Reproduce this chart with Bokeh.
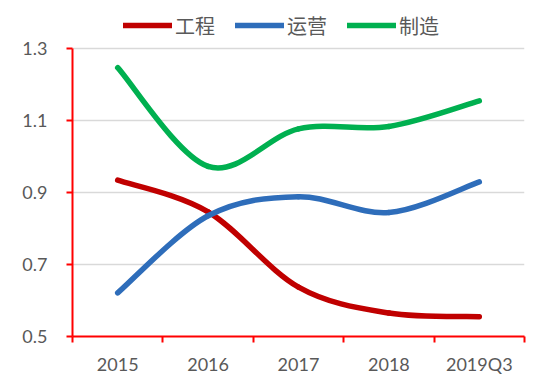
from bokeh.plotting import figure
from bokeh.models import (Range1d, FixedTicker, Legend, LegendItem)
from bokeh.embed import file_html
from bokeh.resources import INLINE

# ---- data ----
categories = ["2015", "2016", "2017", "2018", "2019Q3"]
engineering = [0.934, 0.846, 0.637, 0.565, 0.555]   # 工程
operation = [0.621, 0.835, 0.888, 0.844, 0.929]     # 运营
manufacturing = [1.246, 0.972, 1.076, 1.083, 1.154] # 制造
series_names = ["工程", "运营", "制造"]
y_ticks = [0.5, 0.7, 0.9, 1.1, 1.3]

colors = ["#C00000", "#2E6DBA", "#00B050"]
LABEL_FONT = "Lato"
CJK_FONT = "Noto Sans CJK SC"
TEXT_COLOR = "#595959"

W, H = 534, 377
LEFT, RIGHT, BOTTOM = 72, 10, 39
AXIS_TOP_PX = 48          # where the 1.3 line sits, from the top of the figure
frame_h = H - BOTTOM
y_lo, y_hi = y_ticks[0], y_ticks[-1]
# leave room above the value axis (inside the frame) for the legend
y_top = (y_hi - y_lo * AXIS_TOP_PX / frame_h) / (1 - AXIS_TOP_PX / frame_h)

xs = list(range(1, len(categories) + 1))

p = figure(width=W, height=H, output_backend="svg", toolbar_location=None,
           x_range=Range1d(0.5, len(categories) + 0.5), y_range=Range1d(y_lo, y_top),
           min_border_left=LEFT, min_border_right=RIGHT, min_border_top=0,
           min_border_bottom=BOTTOM)
p.outline_line_color = None
p.background_fill_color = "white"
p.border_fill_color = "white"


def smooth_segments(x, y):
    """Excel-like smoothed line: cubic Bezier segments through the data points."""
    n = len(x)
    segs = dict(x0=[], y0=[], x1=[], y1=[], cx0=[], cy0=[], cx1=[], cy1=[])
    for i in range(n - 1):
        pm = max(i - 1, 0)
        pp = min(i + 2, n - 1)
        segs["x0"].append(x[i]); segs["y0"].append(y[i])
        segs["x1"].append(x[i + 1]); segs["y1"].append(y[i + 1])
        segs["cx0"].append(x[i] + (x[i + 1] - x[pm]) / 6.0)
        segs["cy0"].append(y[i] + (y[i + 1] - y[pm]) / 6.0)
        segs["cx1"].append(x[i + 1] - (x[pp] - x[i]) / 6.0)
        segs["cy1"].append(y[i + 1] - (y[pp] - y[i]) / 6.0)
    return segs


items = []
for name, vals, col in zip(series_names, [engineering, operation, manufacturing], colors):
    s = smooth_segments(xs, vals)
    r = p.bezier(x0=s["x0"], y0=s["y0"], x1=s["x1"], y1=s["y1"],
                 cx0=s["cx0"], cy0=s["cy0"], cx1=s["cx1"], cy1=s["cy1"],
                 line_color=col, line_width=5.5, line_cap="round")
    items.append(LegendItem(label=name, renderers=[r]))

# grid
p.xgrid.visible = False
p.ygrid.ticker = FixedTicker(ticks=y_ticks)
p.ygrid.grid_line_color = "#D9D9D9"
p.ygrid.grid_line_width = 1.5

# x axis
xa = p.xaxis[0]
xa.ticker = FixedTicker(ticks=xs, minor_ticks=[v - 0.5 for v in xs] + [xs[-1] + 0.5])
xa.major_label_overrides = {x: c for x, c in zip(xs, categories)}
xa.major_tick_line_color = None
xa.minor_tick_line_color = "#FF0000"
xa.minor_tick_line_width = 2
xa.minor_tick_out = 6
xa.minor_tick_in = 0
xa.axis_line_color = "#FF0000"
xa.axis_line_width = 2
xa.major_label_text_font = LABEL_FONT
xa.major_label_text_font_size = "18px"
xa.major_label_text_color = TEXT_COLOR
xa.major_label_standoff = 10

# y axis
ya = p.yaxis[0]
ya.ticker = FixedTicker(ticks=y_ticks)
ya.bounds = (y_lo, y_hi)
ya.major_label_overrides = {t: f"{t:.1f}" for t in y_ticks}
ya.minor_tick_line_color = None
ya.major_tick_line_color = "#FF0000"
ya.major_tick_line_width = 2
ya.major_tick_out = 6
ya.major_tick_in = 0
ya.axis_line_color = "#FF0000"
ya.axis_line_width = 2
ya.major_label_text_font = LABEL_FONT
ya.major_label_text_font_size = "18px"
ya.major_label_text_color = TEXT_COLOR
ya.major_label_standoff = 19

legend = Legend(items=items, orientation="horizontal", location=(51, frame_h - 42))
legend.padding = 0
legend.margin = 0
legend.spacing = 20
legend.glyph_width = 49
legend.glyph_height = 30
legend.label_height = 30
legend.label_standoff = 3
legend.label_text_font = CJK_FONT
legend.label_text_font_size = "20px"
legend.label_text_color = TEXT_COLOR
legend.border_line_color = None
legend.background_fill_alpha = 0
p.add_layout(legend, "center")

open("out.html", "w").write(file_html(p, INLINE))
